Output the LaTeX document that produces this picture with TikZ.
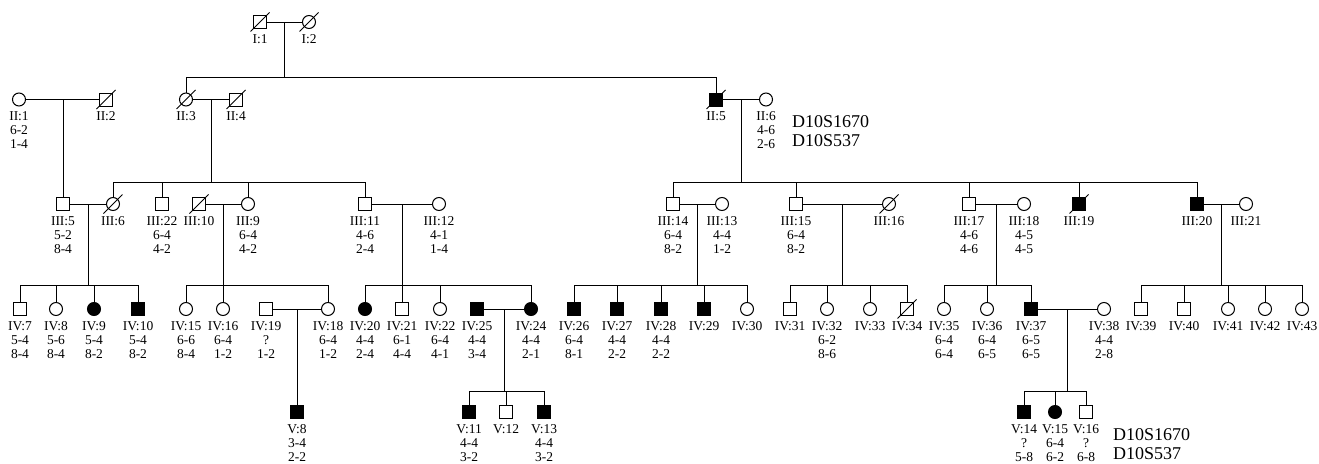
\documentclass[tikz,border=0pt]{standalone}
\usepackage{fontspec}
\setmainfont{Liberation Serif}
\usetikzlibrary{calc}
\tikzset{
 sym/.style={draw, line width=1pt, inner sep=0pt, minimum size=13pt},
 male/.style={sym, rectangle},
 female/.style={sym, circle},
 maleA/.style={male, fill=black},
 femaleA/.style={female, fill=black},
 lab/.style={font=\fontsize{13.5}{14}\selectfont, align=center, anchor=north, inner sep=0pt},
 mk/.style={font=\fontsize{18}{19}\selectfont, anchor=base west, inner sep=0pt},
 ln/.style={line width=1pt},
}
\newcommand\pedperson[5]{\node[#4] (#1) at (#2,#3) {}; \node[lab] (#1l) at (#2,#3+11.2) {\strut#5};}
\newcommand\peddead[1]{\draw[ln] ([shift={(-9.5,9.5)}]#1.center) -- ([shift={(9.5,-9.5)}]#1.center);}
\newcommand\pedfam[6]{%
 \draw[ln] (#1) -- (#2);
 \coordinate (#1#2m) at ($(#1)!.5!(#2)$);
 \draw[ln] (#1#2m) -- (#1#2m |- 0,#3);
 \draw[ln] (#4 |- 0,#3) -- (#5 |- 0,#3);
 \foreach \c in {#6} {\draw[ln] (\c.north) -- (\c |- 0,#3);}
}
\begin{document}
\begin{tikzpicture}[x=1pt,y=-1pt]
\useasboundingbox (0,0) rectangle (1319,463);
% generation I
\pedperson{I1}{260}{22}{male}{I:1}
\pedperson{I2}{309}{22}{female}{I:2}
% generation II
\pedperson{II1}{19}{99.5}{female}{II:1\\6-2\\1-4}
\pedperson{II2}{106}{99.5}{male}{II:2}
\pedperson{II3}{186}{99.5}{female}{II:3}
\pedperson{II4}{236}{99.5}{male}{II:4}
\pedperson{II5}{716}{99.5}{maleA}{II:5}
\pedperson{II6}{766}{99.5}{female}{II:6\\4-6\\2-6}
% generation III
\pedperson{III5}{63}{204}{male}{III:5\\5-2\\8-4}
\pedperson{III6}{113}{204}{female}{III:6}
\pedperson{III22}{162}{204}{male}{III:22\\6-4\\4-2}
\pedperson{III10}{199}{204}{male}{III:10}
\pedperson{III9}{248}{204}{female}{III:9\\6-4\\4-2}
\pedperson{III11}{365}{204}{male}{III:11\\4-6\\2-4}
\pedperson{III12}{439}{204}{female}{III:12\\4-1\\1-4}
\pedperson{III14}{673}{204}{male}{III:14\\6-4\\8-2}
\pedperson{III13}{722}{204}{female}{III:13\\4-4\\1-2}
\pedperson{III15}{796}{204}{male}{III:15\\6-4\\8-2}
\pedperson{III16}{889}{204}{female}{III:16}
\pedperson{III17}{969}{204}{male}{III:17\\4-6\\4-6}
\pedperson{III18}{1024}{204}{female}{III:18\\4-5\\4-5}
\pedperson{III19}{1079}{204}{maleA}{III:19}
\pedperson{III20}{1197}{204}{maleA}{III:20}
\pedperson{III21}{1246}{204}{female}{III:21}
% generation IV
\pedperson{IV7}{20}{309}{male}{IV:7\\5-4\\8-4}
\pedperson{IV8}{56}{309}{female}{IV:8\\5-6\\8-4}
\pedperson{IV9}{94}{309}{femaleA}{IV:9\\5-4\\8-2}
\pedperson{IV10}{138}{309}{maleA}{IV:10\\5-4\\8-2}
\pedperson{IV15}{186}{309}{female}{IV:15\\6-6\\8-4}
\pedperson{IV16}{223}{309}{female}{IV:16\\6-4\\1-2}
\pedperson{IV19}{266}{309}{male}{IV:19\\?\\1-2}
\pedperson{IV18}{328}{309}{female}{IV:18\\6-4\\1-2}
\pedperson{IV20}{365}{309}{femaleA}{IV:20\\4-4\\2-4}
\pedperson{IV21}{402}{309}{male}{IV:21\\6-1\\4-4}
\pedperson{IV22}{440}{309}{female}{IV:22\\6-4\\4-1}
\pedperson{IV25}{477}{309}{maleA}{IV:25\\4-4\\3-4}
\pedperson{IV24}{531}{309}{femaleA}{IV:24\\4-4\\2-1}
\pedperson{IV26}{574}{309}{maleA}{IV:26\\6-4\\8-1}
\pedperson{IV27}{617}{309}{maleA}{IV:27\\4-4\\2-2}
\pedperson{IV28}{661}{309}{maleA}{IV:28\\4-4\\2-2}
\pedperson{IV29}{704}{309}{maleA}{IV:29}
\pedperson{IV30}{747}{309}{female}{IV:30}
\pedperson{IV31}{790}{309}{male}{IV:31}
\pedperson{IV32}{827}{309}{female}{IV:32\\6-2\\8-6}
\pedperson{IV33}{870}{309}{female}{IV:33}
\pedperson{IV34}{907}{309}{male}{IV:34}
\pedperson{IV35}{944}{309}{female}{IV:35\\6-4\\6-4}
\pedperson{IV36}{987}{309}{female}{IV:36\\6-4\\6-5}
\pedperson{IV37}{1031}{309}{maleA}{IV:37\\6-5\\6-5}
\pedperson{IV38}{1104}{309}{female}{IV:38\\4-4\\2-8}
\pedperson{IV39}{1141}{309}{male}{IV:39}
\pedperson{IV40}{1184}{309}{male}{IV:40}
\pedperson{IV41}{1228}{309}{female}{IV:41}
\pedperson{IV42}{1265}{309}{female}{IV:42}
\pedperson{IV43}{1302}{309}{female}{IV:43}
% generation V
\pedperson{V8}{297}{412}{maleA}{V:8\\3-4\\2-2}
\pedperson{V11}{469}{412}{maleA}{V:11\\4-4\\3-2}
\pedperson{V12}{506}{412}{male}{V:12}
\pedperson{V13}{544}{412}{maleA}{V:13\\4-4\\3-2}
\pedperson{V14}{1024}{412}{maleA}{V:14\\?\\5-8}
\pedperson{V15}{1055}{412}{femaleA}{V:15\\6-4\\6-2}
\pedperson{V16}{1086}{412}{male}{V:16\\?\\6-8}
% deceased
\foreach \n in {I1,I2,II2,II3,II4,II5,III6,III10,III16,III19,IV34} {\peddead{\n}}
% families
\pedfam{I1}{I2}{77}{II3}{II5}{II3,II5}
\draw[ln] (II1) -- (II2);
\coordinate (II1II2m) at ($(II1)!.5!(II2)$);
\draw[ln] (III5.north) -- (III5 |- II1II2m);
\pedfam{II3}{II4}{182}{III6}{III11}{III6,III22,III9,III11}
\pedfam{II5}{II6}{182}{III14}{III20}{III14,III15,III17,III19,III20}
\pedfam{III5}{III6}{285}{IV7}{IV10}{IV7,IV8,IV9,IV10}
\pedfam{III10}{III9}{285}{IV15}{IV18}{IV15,IV16,IV18}
\pedfam{III11}{III12}{285}{IV20}{IV24}{IV20,IV21,IV22,IV24}
\pedfam{III14}{III13}{285}{IV26}{IV30}{IV26,IV27,IV28,IV29,IV30}
\pedfam{III15}{III16}{285}{IV31}{IV34}{IV31,IV32,IV33,IV34}
\pedfam{III17}{III18}{285}{IV35}{IV37}{IV35,IV36,IV37}
\pedfam{III20}{III21}{285}{IV39}{IV43}{IV39,IV40,IV41,IV42,IV43}
\draw[ln] (IV19) -- (IV18);
\coordinate (IV19IV18m) at ($(IV19)!.5!(IV18)$);
\draw[ln] (V8.north) -- (V8 |- IV19IV18m);
\pedfam{IV25}{IV24}{391}{V11}{V13}{V11,V12,V13}
\pedfam{IV37}{IV38}{391}{V14}{V16}{V14,V15,V16}
% marker names
\node[mk] (mk1) at (792,127) {D10S1670};
\node[mk] (mk2) at (792,146) {D10S537};
\node[mk] (mk3) at (1113,440) {D10S1670};
\node[mk] (mk4) at (1113,459) {D10S537};
\end{tikzpicture}
\end{document}
